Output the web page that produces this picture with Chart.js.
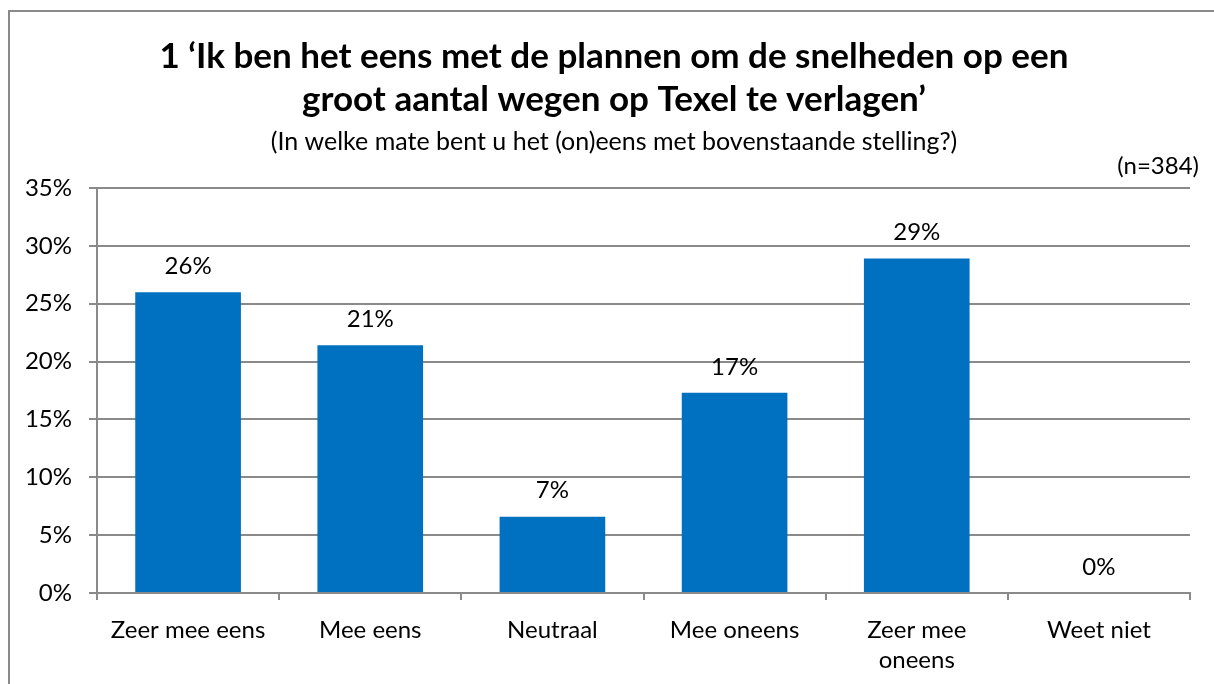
<!DOCTYPE html>
<html>
<head>
<meta charset="utf-8">
<script src="https://cdn.jsdelivr.net/npm/chart.js@4"></script>
<style>
  html, body { margin: 0; padding: 0; background: #fff; }
  #wrap { position: relative; width: 1214px; height: 684px; overflow: hidden; }
  #frame { position: absolute; left: 8px; top: 10px; width: 1300px; height: 800px;
           border-left: 2px solid #8a8a8a; border-top: 2px solid #8a8a8a; }
  canvas { position: absolute; left: 0; top: 0; }
</style>
</head>
<body>
<div id="wrap">
  <div id="frame"></div>
  <canvas id="chart" width="1214" height="684"></canvas>
</div>
<script>
const categories = ['Zeer mee eens', 'Mee eens', 'Neutraal', 'Mee oneens', ['Zeer mee', 'oneens'], 'Weet niet'];
const percentages = [26.0, 21.4, 6.6, 17.3, 28.9, 0];
const valueLabels = ['26%', '21%', '7%', '17%', '29%', '0%'];
const yTicks = [0, 5, 10, 15, 20, 25, 30, 35];

const titleLines = ['1 \u2018Ik ben het eens met de plannen om de snelheden op een', 'groot aantal wegen op Texel te verlagen\u2019'];
const subtitleText = '(In welke mate bent u het (on)eens met bovenstaande stelling?)';
const sampleText = '(n=384)';

const FONT = 'Lato, "Open Sans", sans-serif';

// titles and n-count drawn at fixed spots above the plot
const headerPlugin = {
    id: 'header',
    afterDraw(chart) {
        const ctx = chart.ctx;
        ctx.save();
        ctx.fillStyle = '#000';
        ctx.textBaseline = 'middle';
        ctx.textAlign = 'center';
        ctx.font = 'bold 35px ' + FONT;
        ctx.fillText(titleLines[0], 614, 57);
        ctx.fillText(titleLines[1], 614, 100);
        ctx.font = '25px ' + FONT;
        ctx.fillText(subtitleText, 614, 142);
        ctx.font = '24px ' + FONT;
        ctx.textAlign = 'right';
        ctx.fillText(sampleText, 1199, 166);
        ctx.restore();
    }
};

// value labels above each bar
const valueLabelPlugin = {
    id: 'valueLabels',
    afterDatasetsDraw(chart) {
        const ctx = chart.ctx;
        const meta = chart.getDatasetMeta(0);
        ctx.save();
        ctx.fillStyle = '#000';
        ctx.font = '24px ' + FONT;
        ctx.textAlign = 'center';
        ctx.textBaseline = 'middle';
        meta.data.forEach((bar, i) => {
            ctx.fillText(valueLabels[i], bar.x, bar.y - 26);
        });
        ctx.restore();
    }
};

new Chart(document.getElementById('chart'), {
    type: 'bar',
    data: {
        labels: categories,
        datasets: [{
            data: percentages,
            backgroundColor: '#0070C0',
            borderWidth: 0,
            categoryPercentage: 1,
            barPercentage: 0.58
        }]
    },
    options: {
        responsive: false,
        animation: false,
        layout: { padding: { top: 188, right: 24, left: 0, bottom: 0 } },
        plugins: {
            legend: { display: false },
            tooltip: { enabled: false },
            title: { display: false }
        },
        scales: {
            x: {
                afterFit(scale) { scale.height = 91; },
                grid: {
                    offset: true,
                    drawOnChartArea: false,
                    drawTicks: true,
                    tickLength: 7,
                    color: '#8a8a8a',
                    lineWidth: 2
                },
                border: { color: '#8a8a8a', width: 2 },
                ticks: {
                    color: '#000',
                    font: { family: FONT, size: 24, lineHeight: 1.25 },
                    padding: 15,
                    maxRotation: 0,
                    autoSkip: false
                }
            },
            y: {
                min: 0,
                max: 35,
                afterFit(scale) { scale.width = 97; },
                afterBuildTicks(scale) { scale.ticks = yTicks.map(v => ({ value: v })); },
                grid: {
                    color: '#8a8a8a',
                    lineWidth: 2,
                    tickLength: 8
                },
                border: { color: '#8a8a8a', width: 2 },
                ticks: {
                    color: '#000',
                    font: { family: FONT, size: 24 },
                    padding: 17,
                    callback: v => v + '%'
                }
            }
        }
    },
    plugins: [headerPlugin, valueLabelPlugin]
});
</script>
</body>
</html>
